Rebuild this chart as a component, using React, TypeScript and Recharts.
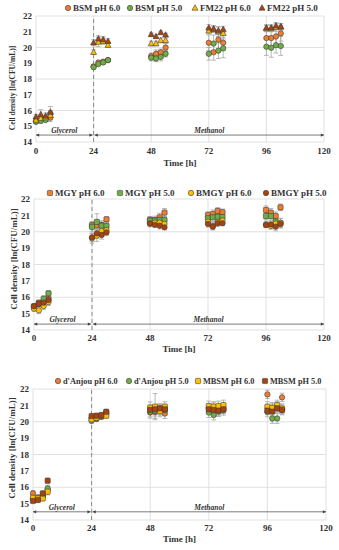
import React from 'react';
import { ScatterChart, Scatter, XAxis, YAxis, CartesianGrid, ErrorBar, ReferenceLine } from 'recharts';

// sampling times [h], shared by all panels
const TIMES = [0, 2, 4, 6, 24, 26, 28, 30, 48, 50, 52, 54, 72, 74, 76, 78, 96, 98, 100, 102];
const X_TICKS = [0, 24, 48, 72, 96, 120];
const Y_TICKS = [14, 15, 16, 17, 18, 19, 20, 21, 22];

// panel A
const BSM_6 = [15.3, 15.4, 15.45, 15.55, 18.8, 19.05, 19.1, 19.2, 19.45, 19.6, 19.7, 20.0, 20.3, 19.7, 20.5, 20.3, 20.6, 20.6, 20.7, 20.9];
const BSM_6_ERR = [0.15, 0.2, 0.15, 0.25, 0.1, 0.1, 0.1, 0.1, 0.2, 0.25, 0.2, 0.25, 0.5, 0.5, 0.6, 0.5, 0.6, 0.55, 0.6, 0.5];
const BSM_5 = [15.3, 15.35, 15.4, 15.8, 18.75, 18.95, 19.05, 19.2, 19.35, 19.3, 19.4, 19.6, 19.6, 20.25, 19.8, 19.95, 20.05, 19.98, 20.15, 20.1];
const BSM_5_ERR = [0.1, 0.15, 0.1, 0.2, 0.1, 0.1, 0.1, 0.1, 0.2, 0.2, 0.25, 0.2, 0.4, 0.55, 0.5, 0.6, 0.55, 0.6, 0.5, 0.6];
const FM22_6 = [15.4, 15.5, 15.55, 15.7, 19.7, 20.35, 20.4, 20.15, 20.25, 20.25, 20.45, 20.45, 21.06, 21.2, 21.0, 20.9, 21.2, 21.2, 21.28, 21.3];
const FM22_6_ERR = [0.2, 0.2, 0.15, 0.3, 0.15, 0.3, 0.2, 0.15, 0.15, 0.15, 0.15, 0.15, 0.2, 0.2, 0.3, 0.25, 0.2, 0.2, 0.25, 0.2];
const FM22_5 = [15.6, 15.75, 15.65, 15.9, 20.3, 20.55, 20.5, 20.4, 20.83, 20.7, 20.95, 20.8, 21.25, 21.15, 21.07, 21.15, 21.25, 21.25, 21.38, 21.33];
const FM22_5_ERR = [0.15, 0.3, 0.2, 0.35, 0.2, 0.2, 0.2, 0.15, 0.1, 0.1, 0.1, 0.1, 0.2, 0.2, 0.25, 0.2, 0.2, 0.2, 0.2, 0.2];

// panel B
const MGY_6 = [15.45, 15.67, 15.73, 15.9, 20.4, 20.4, 20.4, 20.76, 20.72, 20.7, 20.88, 21.17, 21.02, 21.08, 21.27, 21.19, 21.33, 21.17, 20.96, 21.49];
const MGY_6_ERR = [0.15, 0.15, 0.15, 0.2, 0.2, 0.3, 0.2, 0.15, 0.2, 0.25, 0.25, 0.25, 0.2, 0.25, 0.2, 0.2, 0.25, 0.25, 0.25, 0.2];
const MGY_5 = [15.4, 15.6, 15.9, 16.24, 20.3, 20.6, 20.37, 20.37, 20.68, 20.68, 20.72, 20.72, 20.82, 20.88, 20.92, 20.9, 20.96, 20.96, 20.62, 20.52];
const MGY_5_ERR = [0.15, 0.15, 0.2, 0.15, 0.3, 0.5, 0.3, 0.25, 0.25, 0.2, 0.2, 0.2, 0.25, 0.25, 0.25, 0.2, 0.2, 0.25, 0.3, 0.3];
const BMGY_6 = [15.3, 15.2, 15.46, 15.7, 19.6, 19.76, 20.05, 20.1, 20.5, 20.55, 20.56, 20.48, 20.62, 20.35, 20.6, 20.68, 20.45, 20.35, 20.5, 20.55];
const BMGY_6_ERR = [0.15, 0.2, 0.2, 0.2, 0.3, 0.35, 0.3, 0.25, 0.2, 0.2, 0.2, 0.2, 0.2, 0.2, 0.2, 0.2, 0.2, 0.2, 0.25, 0.25];
const BMGY_5 = [15.45, 15.6, 15.67, 15.83, 19.66, 19.9, 19.8, 19.96, 20.5, 20.42, 20.37, 20.27, 20.48, 20.31, 20.52, 20.52, 20.41, 20.45, 20.31, 20.48];
const BMGY_5_ERR = [0.1, 0.15, 0.15, 0.15, 0.25, 0.3, 0.25, 0.2, 0.15, 0.15, 0.2, 0.15, 0.2, 0.2, 0.2, 0.15, 0.15, 0.2, 0.25, 0.2];

// panel C
const ANJ_6 = [15.63, 15.25, 15.5, 15.85, 20.2, 20.17, 20.3, 20.6, 20.57, 20.6, 20.7, 20.5, 20.8, 20.85, 20.7, 20.8, 21.67, 20.85, 20.92, 21.49];
const ANJ_6_ERR = [0.15, 0.15, 0.15, 0.2, 0.15, 0.15, 0.15, 0.15, 0.35, 0.4, 0.3, 0.3, 0.3, 0.3, 0.3, 0.3, 0.25, 0.3, 0.3, 0.25];
const ANJ_5 = [15.3, 15.38, 15.45, 15.93, 20.06, 20.2, 20.35, 20.5, 20.6, 20.65, 20.76, 20.7, 20.56, 20.41, 20.62, 20.7, 20.6, 20.2, 20.2, 20.72];
const ANJ_5_ERR = [0.15, 0.15, 0.15, 0.2, 0.15, 0.15, 0.15, 0.15, 0.3, 0.3, 0.3, 0.3, 0.3, 0.3, 0.3, 0.3, 0.3, 0.3, 0.3, 0.3];
const MBSM_6 = [15.36, 15.32, 15.32, 15.73, 20.15, 20.25, 20.37, 20.37, 20.86, 20.92, 20.65, 20.92, 20.96, 20.92, 20.96, 21.02, 20.92, 20.85, 21.02, 20.8];
const MBSM_6_ERR = [0.15, 0.15, 0.15, 0.2, 0.15, 0.15, 0.15, 0.15, 0.35, 0.8, 0.35, 0.3, 0.3, 0.3, 0.3, 0.3, 0.3, 0.3, 0.3, 0.3];
const MBSM_5 = [15.16, 15.22, 15.62, 16.4, 20.35, 20.37, 20.41, 20.61, 20.72, 20.76, 20.82, 20.76, 20.76, 20.72, 20.68, 20.76, 20.68, 20.62, 20.82, 20.72];
const MBSM_5_ERR = [0.1, 0.1, 0.15, 0.15, 0.1, 0.1, 0.1, 0.1, 0.3, 0.3, 0.3, 0.3, 0.25, 0.25, 0.25, 0.25, 0.25, 0.25, 0.25, 0.25];

const ORANGE = '#ED7D31';
const GREEN = '#70AD47';
const GOLD = '#FFC000';
const BROWN = '#A8430F';
const FONT = '"Liberation Serif", "Times New Roman", serif';

type Kind = 'circle' | 'square' | 'triangle';

interface SeriesDef {
  name: string;
  kind: Kind;
  fill: string;
  values: number[];
  errors: number[];
}

function Marker({ cx, cy, kind, fill }: { cx: number; cy: number; kind: Kind; fill: string }) {
  const stroke = '#3A3A3A';
  if (kind === 'circle') {
    return <circle cx={cx} cy={cy} r={2.7} fill={fill} stroke={stroke} strokeWidth={0.6} />;
  }
  if (kind === 'triangle') {
    return (
      <polygon
        points={`${cx},${cy - 3.2} ${cx - 3},${cy + 2.2} ${cx + 3},${cy + 2.2}`}
        fill={fill}
        stroke={stroke}
        strokeWidth={0.6}
      />
    );
  }
  return <rect x={cx - 2.6} y={cy - 2.6} width={5.2} height={5.2} rx={0.9} fill={fill} stroke={stroke} strokeWidth={0.6} />;
}

// double headed arrow with the phase name above it
function PhaseArrow(props: any) {
  const { x1, y1, x2, text } = props;
  const h = 3.2;
  const w = 1.6;
  return (
    <g>
      <line x1={x1} y1={y1} x2={x2} y2={y1} stroke="#595959" strokeWidth={0.8} />
      <polygon points={`${x1},${y1} ${x1 + h},${y1 - w} ${x1 + h},${y1 + w}`} fill="#404040" />
      <polygon points={`${x2},${y1} ${x2 - h},${y1 - w} ${x2 - h},${y1 + w}`} fill="#404040" />
      <text
        x={(x1 + x2) / 2}
        y={y1 - 2}
        textAnchor="middle"
        fontFamily={FONT}
        fontStyle="italic"
        fontWeight="bold"
        fontSize={7.5}
        fill="#333"
      >
        {text}
      </text>
    </g>
  );
}

interface PanelProps {
  top: number;
  height: number;
  margin: { top: number; right: number; left: number; bottom: number };
  yAxisWidth: number;
  xAxisHeight: number;
  xTickGap: number;
  series: SeriesDef[];
  legendX: number[];
  legendY: number;
  legendSize: number;
  arrowY: number;
  yLabel: { x: number; y: number; size: number };
  timeY: number;
}

function Panel(p: PanelProps) {
  const tickStyle = { fontFamily: FONT, fontWeight: 'bold' as const, fontSize: 9, fill: '#333' };
  return (
    <div style={{ position: 'absolute', top: p.top, left: 0, width: 339, height: p.height }}>
      {p.series.map((s, i) => (
        <div
          key={s.name}
          style={{
            position: 'absolute',
            left: p.legendX[i] - 4,
            top: p.legendY - 6,
            height: 12,
            display: 'flex',
            alignItems: 'center',
            whiteSpace: 'nowrap',
            fontFamily: FONT,
            fontWeight: 'bold',
            fontSize: p.legendSize,
            color: '#333',
          }}
        >
          <svg width={8} height={8} style={{ marginRight: 1 }}>
            <Marker cx={4} cy={4} kind={s.kind} fill={s.fill} />
          </svg>
          {s.name}
        </div>
      ))}
      <ScatterChart width={339} height={p.height} margin={p.margin}>
        <CartesianGrid stroke="#D9D9D9" strokeWidth={0.8} />
        <XAxis
          type="number"
          dataKey="x"
          domain={[0, 120]}
          ticks={X_TICKS}
          axisLine={false}
          tickLine={false}
          tickSize={p.xTickGap - 2}
          tickMargin={2}
          height={p.xAxisHeight}
          tick={tickStyle}
          label={{
            content: (lp: any) => (
              <text
                x={lp.viewBox.x + lp.viewBox.width / 2}
                y={p.timeY}
                textAnchor="middle"
                dominantBaseline="central"
                fontFamily={FONT}
                fontWeight="bold"
                fontSize={9}
                fill="#333"
              >
                Time [h]
              </text>
            ),
          }}
        />
        <YAxis
          type="number"
          dataKey="y"
          domain={[14, 22]}
          ticks={Y_TICKS}
          axisLine={false}
          tickLine={false}
          tickSize={2}
          tickMargin={2}
          width={p.yAxisWidth}
          tick={tickStyle}
          label={{
            content: () => (
              <text
                x={p.yLabel.x}
                y={p.yLabel.y}
                transform={`rotate(-90 ${p.yLabel.x} ${p.yLabel.y})`}
                textAnchor="middle"
                dominantBaseline="central"
                fontFamily={FONT}
                fontWeight="bold"
                fontSize={p.yLabel.size}
                fill="#333"
              >
                Cell density [ln(CFU/mL)]
              </text>
            ),
          }}
        />
        <ReferenceLine x={24} stroke="#808080" strokeWidth={0.9} strokeDasharray="4 3" />
        <ReferenceLine
          segment={[{ x: 0, y: p.arrowY }, { x: 23.6, y: p.arrowY }]}
          shape={(lp: any) => <PhaseArrow {...lp} text="Glycerol" />}
        />
        <ReferenceLine
          segment={[{ x: 24.4, y: p.arrowY }, { x: 120, y: p.arrowY }]}
          shape={(lp: any) => <PhaseArrow {...lp} text="Methanol" />}
        />
        {p.series.map((s) => (
          <Scatter
            key={s.name}
            name={s.name}
            data={TIMES.map((x, i) => ({ x, y: s.values[i], err: s.errors[i] }))}
            isAnimationActive={false}
            shape={(sp: any) => <Marker cx={sp.cx} cy={sp.cy} kind={s.kind} fill={s.fill} />}
          >
            <ErrorBar dataKey="err" direction="y" width={2.4} stroke="#A6A6A6" strokeWidth={0.8} />
          </Scatter>
        ))}
      </ScatterChart>
    </div>
  );
}

const PANEL_A: SeriesDef[] = [
  { name: 'BSM pH 6.0', kind: 'circle', fill: ORANGE, values: BSM_6, errors: BSM_6_ERR },
  { name: 'BSM pH 5.0', kind: 'circle', fill: GREEN, values: BSM_5, errors: BSM_5_ERR },
  { name: 'FM22 pH 6.0', kind: 'triangle', fill: GOLD, values: FM22_6, errors: FM22_6_ERR },
  { name: 'FM22 pH 5.0', kind: 'triangle', fill: BROWN, values: FM22_5, errors: FM22_5_ERR },
];

const PANEL_B: SeriesDef[] = [
  { name: 'MGY pH 6.0', kind: 'square', fill: ORANGE, values: MGY_6, errors: MGY_6_ERR },
  { name: 'MGY pH 5.0', kind: 'square', fill: GREEN, values: MGY_5, errors: MGY_5_ERR },
  { name: 'BMGY pH 6.0', kind: 'circle', fill: GOLD, values: BMGY_6, errors: BMGY_6_ERR },
  { name: 'BMGY pH 5.0', kind: 'circle', fill: BROWN, values: BMGY_5, errors: BMGY_5_ERR },
];

const PANEL_C: SeriesDef[] = [
  { name: "d'Anjou pH 6.0", kind: 'circle', fill: ORANGE, values: ANJ_6, errors: ANJ_6_ERR },
  { name: "d'Anjou pH 5.0", kind: 'circle', fill: GREEN, values: ANJ_5, errors: ANJ_5_ERR },
  { name: 'MBSM pH 6.0', kind: 'square', fill: GOLD, values: MBSM_6, errors: MBSM_6_ERR },
  { name: 'MBSM pH 5.0', kind: 'square', fill: BROWN, values: MBSM_5, errors: MBSM_5_ERR },
];

export default function App() {
  return (
    <div style={{ position: 'absolute', top: 0, left: 0, width: 339, height: 550, background: '#fff' }}>
      <Panel
        top={0}
        height={172}
        margin={{ top: 16, right: 15, left: 0, bottom: 0 }}
        yAxisWidth={36}
        xAxisHeight={30}
        xTickGap={6}
        series={PANEL_A}
        legendX={[68, 130, 195, 262]}
        legendY={8}
        legendSize={9}
        arrowY={14.44}
        yLabel={{ x: 12, y: 88, size: 7.5 }}
        timeY={163}
      />
      <Panel
        top={183}
        height={175}
        margin={{ top: 16, right: 15, left: 0, bottom: 0 }}
        yAxisWidth={34}
        xAxisHeight={28}
        xTickGap={5}
        series={PANEL_B}
        legendX={[50, 120, 191, 266]}
        legendY={10}
        legendSize={9}
        arrowY={14.36}
        yLabel={{ x: 14, y: 76, size: 9 }}
        timeY={166}
      />
      <Panel
        top={373}
        height={175}
        margin={{ top: 16, right: 13, left: 0, bottom: 0 }}
        yAxisWidth={33}
        xAxisHeight={28}
        xTickGap={5}
        series={PANEL_C}
        legendX={[58, 129, 198, 265]}
        legendY={8}
        legendSize={8.3}
        arrowY={14.5}
        yLabel={{ x: 12, y: 75, size: 9 }}
        timeY={166}
      />
    </div>
  );
}
